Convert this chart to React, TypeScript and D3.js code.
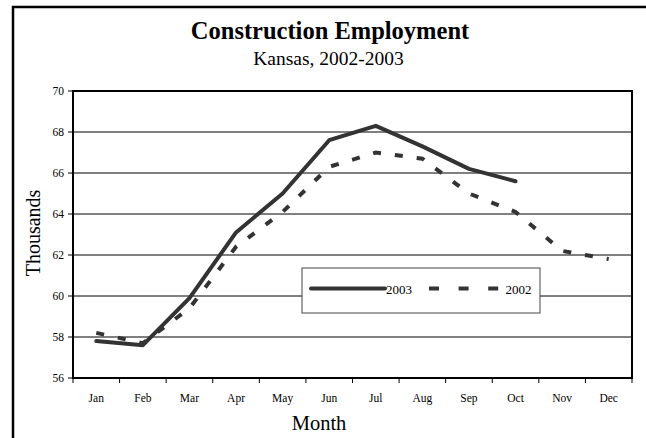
import React from "react";
import * as d3 from "d3";

const months = ["Jan", "Feb", "Mar", "Apr", "May", "Jun", "Jul", "Aug", "Sep", "Oct", "Nov", "Dec"];
const series2003 = [57.8, 57.6, 59.9, 63.1, 65.0, 67.6, 68.3, 67.3, 66.2, 65.6];
const series2002 = [58.2, 57.7, 59.4, 62.4, 64.1, 66.3, 67.0, 66.7, 65.0, 64.1, 62.2, 61.8];
const yTicks = [56, 58, 60, 62, 64, 66, 68, 70];

const W = 646;
const H = 438;
const M = { left: 73, top: 91, right: 632, bottom: 378 };

export default function App() {
  const x = d3.scaleBand<string>().domain(months).range([M.left, M.right]).padding(0);
  const y = d3.scaleLinear().domain([56, 70]).range([M.bottom, M.top]);
  const cx = (i: number) => (x(months[i]) as number) + x.bandwidth() / 2;
  const line = d3
    .line<number>()
    .x((_, i) => cx(i))
    .y((d) => y(d));
  const font = "'Liberation Serif', 'Times New Roman', serif";
  return (
    <svg
      width={W}
      height={H}
      style={{ position: "absolute", left: 0, top: 0, background: "#fff" }}
      fontFamily={font}
    >
      <rect x={0} y={0} width={W} height={H} fill="#fff" />
      <rect x={13} y={7} width={W + 20} height={H + 20} fill="none" stroke="#000" strokeWidth={2.5} />
      <text x={330} y={38.5} textAnchor="middle" fontSize={24.5} fontWeight="bold">
        Construction Employment
      </text>
      <text x={328.5} y={65} textAnchor="middle" fontSize={19.5}>
        Kansas, 2002-2003
      </text>
      {yTicks.map((t) => (
        <g key={t}>
          {t !== 56 && t !== 70 && (
            <line x1={M.left} x2={M.right} y1={y(t)} y2={y(t)} stroke="#000" strokeWidth={1} />
          )}
          <line x1={M.left - 5} x2={M.left} y1={y(t)} y2={y(t)} stroke="#000" strokeWidth={1} />
          <text x={M.left - 9} y={y(t) + 4} textAnchor="end" fontSize={11.5}>
            {t}
          </text>
        </g>
      ))}
      {months.map((m, i) => (
        <g key={m}>
          <line
            x1={x(m) as number}
            x2={x(m) as number}
            y1={M.bottom}
            y2={M.bottom + 5}
            stroke="#000"
            strokeWidth={1}
          />
          <text x={cx(i)} y={M.bottom + 24} textAnchor="middle" fontSize={11.5}>
            {m}
          </text>
        </g>
      ))}
      <line x1={M.right} x2={M.right} y1={M.bottom} y2={M.bottom + 5} stroke="#000" strokeWidth={1} />
      <rect
        x={M.left}
        y={M.top}
        width={M.right - M.left}
        height={M.bottom - M.top}
        fill="none"
        stroke="#000"
        strokeWidth={2}
      />
      <path
        d={line(series2002) || ""}
        fill="none"
        stroke="#333"
        strokeWidth={4}
        strokeDasharray="8 14"
      />
      <path d={line(series2003) || ""} fill="none" stroke="#333" strokeWidth={4} strokeLinejoin="round" strokeLinecap="round" />
      <rect x={302} y={268} width={238} height={45} fill="#fff" stroke="#444" strokeWidth={1} />
      <line x1={311} x2={385} y1={288.5} y2={288.5} stroke="#333" strokeWidth={4} strokeLinecap="round" />
      <text x={386} y={294} fontSize={13}>2003</text>
      <line x1={429} x2={499} y1={288.5} y2={288.5} stroke="#333" strokeWidth={4} strokeDasharray="10 19.6" />
      <text x={505.5} y={294} fontSize={13}>2002</text>
      <text x={319} y={430} textAnchor="middle" fontSize={20.5}>
        Month
      </text>
      <text
        transform={`translate(39.5,233) rotate(-90)`}
        textAnchor="middle"
        fontSize={20}
      >
        Thousands
      </text>
    </svg>
  );
}
